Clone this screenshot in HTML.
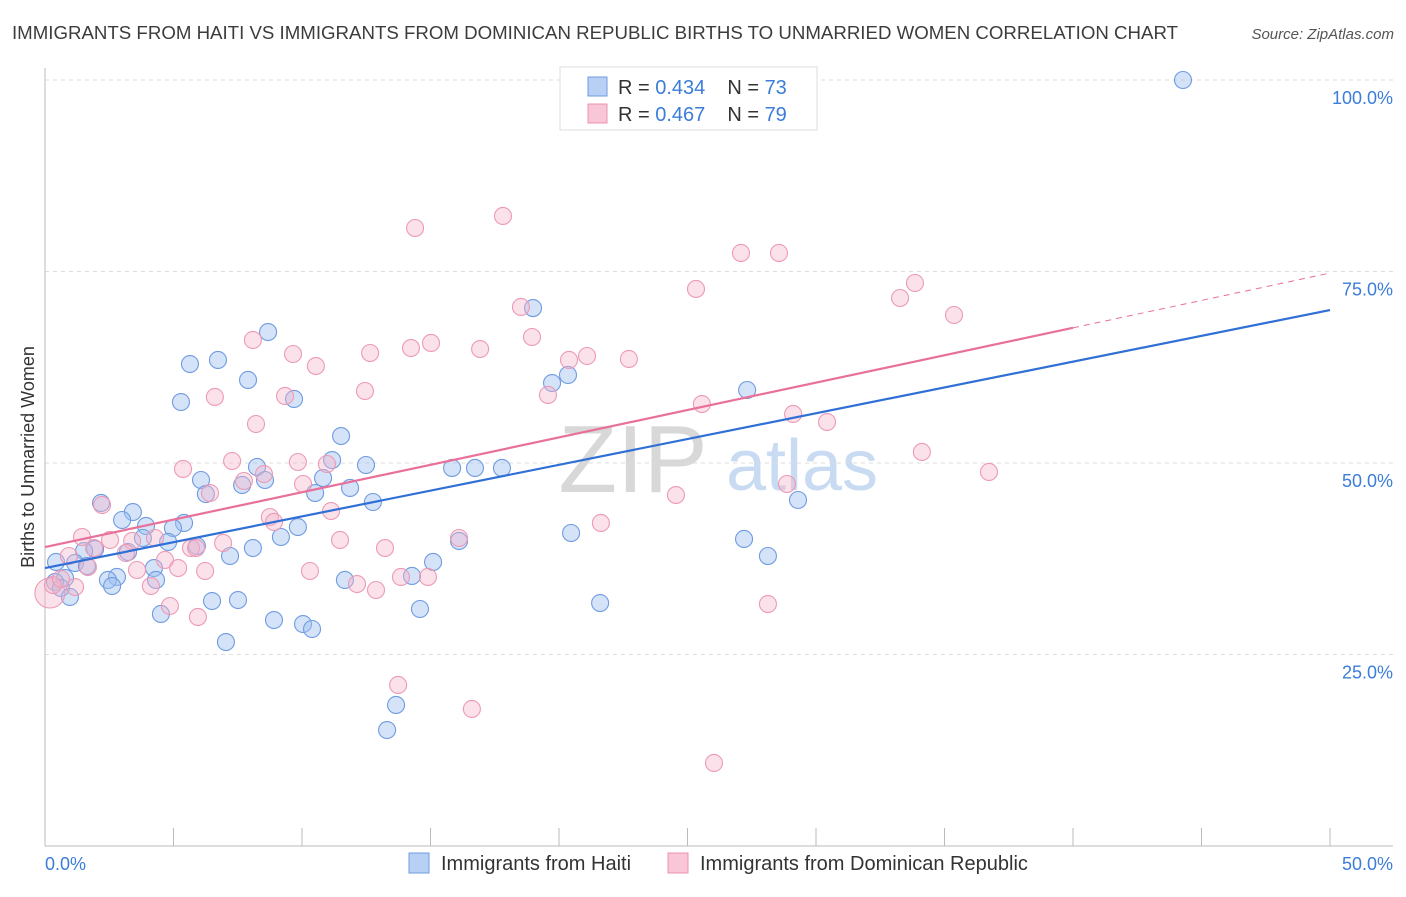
<!DOCTYPE html>
<html><head><meta charset="utf-8"><style>
body{margin:0;background:#fff;font-family:"Liberation Sans",sans-serif;}
svg text{font-family:"Liberation Sans",sans-serif;}
</style></head><body>
<svg id="chart" width="1406" height="892" xmlns="http://www.w3.org/2000/svg">
<text x="12" y="39" font-size="18" fill="#3c3c3c" textLength="1166" lengthAdjust="spacingAndGlyphs">IMMIGRANTS FROM HAITI VS IMMIGRANTS FROM DOMINICAN REPUBLIC BIRTHS TO UNMARRIED WOMEN CORRELATION CHART</text>
<text x="1394" y="39" font-size="15" fill="#555" font-style="italic" text-anchor="end">Source: ZipAtlas.com</text>
<text transform="translate(34,457) rotate(-90)" font-size="18" fill="#333" text-anchor="middle">Births to Unmarried Women</text>
<g>
<text x="633" y="492" font-size="96" fill="#d8d8d8" font-family="Liberation Serif,serif" text-anchor="middle">ZIP</text>
<text x="802" y="490" font-size="72" fill="#c8dbf2" text-anchor="middle">atlas</text>
</g>
<g id="grid"></g>
<g id="axes"></g>
<g id="marks"></g>
<g>
<rect x="560" y="67" width="257" height="63" fill="#fff" stroke="#ddd"/>
<rect x="588" y="77" width="19" height="19" fill="#b8d0f4" stroke="#6f9be0"/>
<rect x="588" y="104" width="19" height="19" fill="#f8c6d6" stroke="#ea93b0"/>
<text x="618" y="94" font-size="20" fill="#333">R = <tspan fill="#3b7dd8">0.434</tspan><tspan dx="22">N = </tspan><tspan fill="#3b7dd8">73</tspan></text>
<text x="618" y="121" font-size="20" fill="#333">R = <tspan fill="#3b7dd8">0.467</tspan><tspan dx="22">N = </tspan><tspan fill="#3b7dd8">79</tspan></text>
</g>
<g>
<rect x="409" y="853" width="20" height="20" fill="#b8d0f4" stroke="#6f9be0"/>
<text x="441" y="870" font-size="20" fill="#333">Immigrants from Haiti</text>
<rect x="668" y="853" width="20" height="20" fill="#f8c6d6" stroke="#ea93b0"/>
<text x="700" y="870" font-size="20" fill="#333">Immigrants from Dominican Republic</text>
</g>
</svg>
<script>
const yTicks=[25,50,75,100];
const yTickLabels=["25.0%","50.0%","75.0%","100.0%"];
const xTickLabels=["0.0%","50.0%"];
const haitiX=[44.28,18.99,8.68,6.73,5.64,7.90,20.35,19.73,27.32,5.29,9.69,11.52,12.49,11.17,8.25,6.07,10.82,11.87,7.67,8.56,6.26,10.51,15.84,16.73,17.78,12.76,29.30,2.18,3.42,3.00,5.41,4.98,3.93,3.81,4.79,5.91,7.20,8.09,9.18,9.84,16.11,20.47,27.20,28.13,1.95,1.52,3.23,0.43,1.17,1.63,4.24,2.80,2.45,0.78,0.39,0.62,2.61,4.32,0.97,6.50,7.51,4.51,14.28,15.10,11.67,14.59,21.60,8.91,10.04,10.39,7.04,13.66,13.31];
const haitiY=[100.0,70.23,67.10,63.45,62.92,60.84,61.49,60.44,59.53,57.96,58.36,53.52,49.74,50.39,49.48,47.78,48.04,46.74,47.13,47.78,45.95,46.08,49.35,49.35,49.35,44.91,45.17,44.78,43.60,42.56,42.17,41.51,41.78,40.21,39.69,39.16,37.86,38.90,40.34,41.64,39.82,40.86,40.08,37.86,38.77,38.51,38.38,37.08,36.95,36.55,36.29,35.12,34.73,34.99,34.46,33.68,33.94,34.73,32.51,31.98,32.11,30.29,35.25,37.08,34.73,30.94,31.72,29.50,28.98,28.33,26.63,18.41,15.14];
const domX=[17.82,14.40,27.08,28.56,25.33,33.85,33.27,35.37,18.52,18.95,8.09,15.02,14.24,12.65,9.65,10.54,16.93,20.39,21.09,22.72,12.45,19.57,6.61,9.34,25.56,29.11,30.43,8.21,34.12,36.73,5.37,7.28,9.84,8.52,10.97,6.42,7.74,10.04,11.13,8.75,8.91,2.22,21.63,24.55,28.87,2.53,1.44,1.91,3.39,4.28,3.15,5.68,6.93,11.48,16.11,13.23,0.93,1.67,3.58,4.67,5.18,6.23,10.31,13.85,14.90,12.14,12.88,4.12,1.17,0.19,0.31,4.86,5.95,28.13,13.74,16.61,26.03,0.62,5.88];
const domY=[82.25,80.68,77.42,77.42,72.72,73.50,71.54,69.32,70.37,66.45,66.06,65.67,65.01,64.36,64.23,62.66,64.88,63.45,63.97,63.58,59.40,58.88,58.62,58.75,57.70,56.40,55.35,55.09,51.44,48.83,49.22,50.26,50.13,48.56,49.87,46.08,47.65,47.26,43.73,42.95,42.30,44.52,42.17,45.82,47.26,39.95,40.34,38.90,39.82,40.21,38.25,38.90,39.56,39.95,40.21,38.90,37.86,36.42,36.03,37.34,36.29,35.90,35.90,35.12,35.12,34.20,33.42,33.94,33.81,33.03,34.07,31.33,29.90,31.59,21.02,17.89,10.84,34.86,38.90];
const haitiTrend=[36.29,69.97];
const domTrend=[39.03,74.8];
const domSolidEnd=40;

const NS="http://www.w3.org/2000/svg";
const X0=45,X1=1330,Y0=846,Y100=80;
function sx(v){return X0+(X1-X0)*v/50;}
function sy(v){return Y0-(Y0-Y100)*v/100;}
function mk(tag,attrs,parent){const e=document.createElementNS(NS,tag);for(const k in attrs)e.setAttribute(k,attrs[k]);parent.appendChild(e);return e;}
const grid=document.getElementById('grid'),axes=document.getElementById('axes'),marks=document.getElementById('marks');
yTicks.forEach((t,i)=>{
  const l=mk('line',{x1:45,x2:1393,y1:sy(t),y2:sy(t),stroke:'#ddd','stroke-dasharray':'4,4'},grid);
  
  
  const tx=mk('text',{x:1393,y:sy(t)+24,'font-size':18,fill:'#3b7dd8','text-anchor':'end'},axes);
  tx.textContent=yTickLabels[i];
  
  
});
const al=mk('line',{x1:45,x2:45,y1:68,y2:846,stroke:'#bbb'},axes);


const bl=mk('line',{x1:45,x2:1393,y1:846,y2:846,stroke:'#bbb'},axes);


for(let i=0;i<=10;i++){
  const t=mk('line',{x1:sx(i*5),x2:sx(i*5),y1:828,y2:846,stroke:'#bbb'},axes);
  
  
}
[[0,'start'],[50,'end']].forEach((p,i)=>{
  const t=mk('text',{x:i?1393:45,y:870,'font-size':18,fill:'#3b7dd8','text-anchor':p[1]},axes);
  t.textContent=xTickLabels[i];
  
  
});
haitiX.forEach((x,i)=>{
  const c=mk('circle',{cx:sx(x),cy:sy(haitiY[i]),r:8.5,fill:'rgba(160,192,240,0.45)',stroke:'#6f9be0','stroke-width':1.1},marks);
  
  
});
domX.forEach((x,i)=>{
  const c=mk('circle',{cx:sx(x),cy:sy(domY[i]),r:i==69?15:8.5,fill:'rgba(246,180,202,0.4)',stroke:'#ec9ab5','stroke-width':1.1},marks);
  
  
});
const hl=mk('line',{x1:sx(0),y1:sy(haitiTrend[0]),x2:sx(50),y2:sy(haitiTrend[1]),stroke:'#2f6fd6','stroke-width':2.2},marks);


const dAt=v=>domTrend[0]+(domTrend[1]-domTrend[0])*v/50;
const dl=mk('line',{x1:sx(0),y1:sy(domTrend[0]),x2:sx(domSolidEnd),y2:sy(dAt(domSolidEnd)),stroke:'#e8709a','stroke-width':2.2},marks);


const dd=mk('line',{x1:sx(domSolidEnd),y1:sy(dAt(domSolidEnd)),x2:sx(50),y2:sy(domTrend[1]),stroke:'#e8709a','stroke-width':1,'stroke-dasharray':'6,5'},marks);


</script>
</body></html>
